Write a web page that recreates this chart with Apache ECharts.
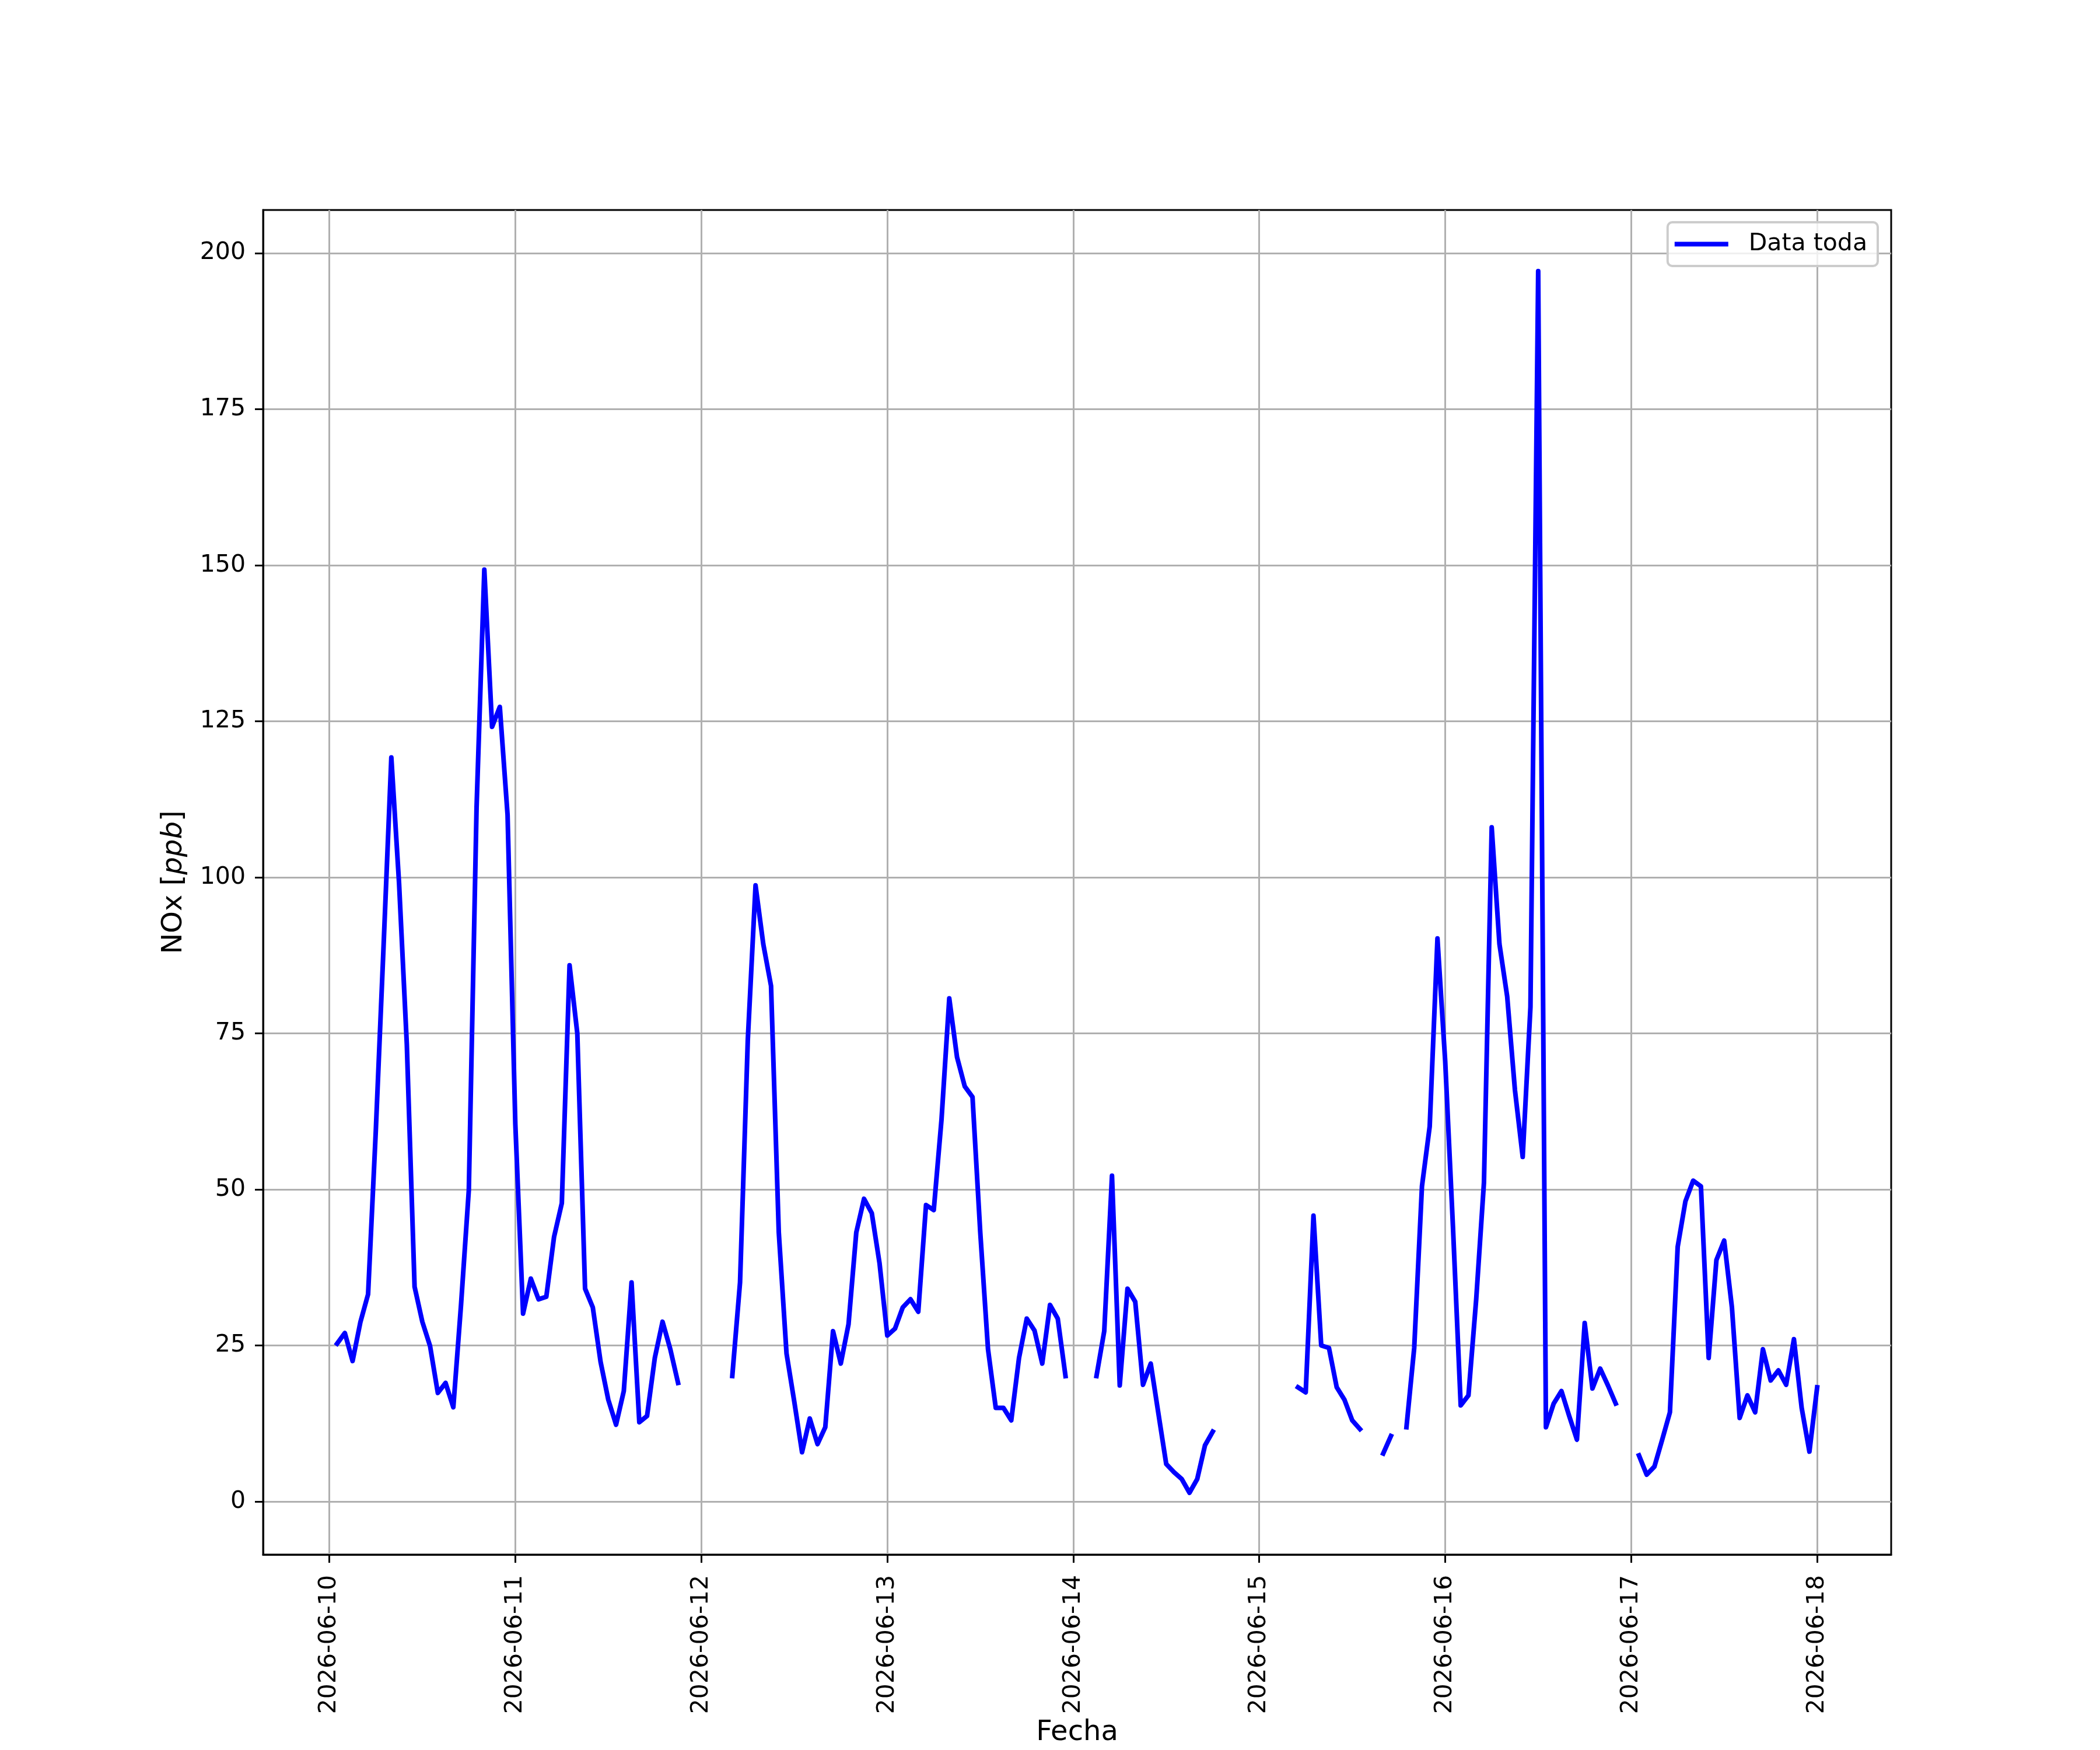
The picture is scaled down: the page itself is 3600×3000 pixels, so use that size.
<!DOCTYPE html>
<html>
<head>
<meta charset="utf-8">
<script src="https://cdn.jsdelivr.net/npm/echarts@6/dist/echarts.min.js"></script>
<style>
html,body{margin:0;padding:0;background:#ffffff;}
#chart{width:3600px;height:3000px;}
</style>
</head>
<body>
<div id="chart"></div>
<script>
// ---- data ----
const seriesName = 'Data toda';
const xAxisName = 'Fecha';
const yAxisName = 'NOx [{i|ppb}]';
const axisOrigin = '2026-06-10T00:00:00Z';   // x = 0 on the axis
const firstSample = '2026-06-10T01:00:00Z';  // first hourly sample
const xTickLabels = ['2026-06-10','2026-06-11','2026-06-12','2026-06-13','2026-06-14','2026-06-15','2026-06-16','2026-06-17','2026-06-18'];
const yTickValues = [0, 25, 50, 75, 100, 125, 150, 175, 200];
// hourly NOx [ppb], from 2026-06-10 01:00 to 2026-06-18 00:00 (null = no data)
const noxValues = [
  25.3, 27.0, 22.5, 28.7, 33.2, 59.5, 89.0, 119.2, 99.0, 73.2, 34.4, 28.8, 24.9, 17.4, 19.0, 15.1, 31.6, 49.9, 111.2, 149.3, 124.1, 127.3, 110.0, 60.5,
  30.1, 35.7, 32.4, 32.8, 42.4, 47.8, 85.9, 75.0, 34.1, 31.1, 22.4, 16.3, 12.3, 17.7, 35.1, 12.7, 13.7, 23.0, 28.8, 24.4, 19.0, null, null, null,
  null, null, null, 20.1, 35.1, 73.9, 98.7, 89.3, 82.6, 43.1, 23.7, 16.0, 7.9, 13.3, 9.2, 11.9, 27.3, 22.1, 28.4, 43.1, 48.5, 46.2, 38.2, 26.6,
  27.7, 31.1, 32.4, 30.4, 47.5, 46.7, 61.2, 80.6, 71.2, 66.5, 64.8, 43.1, 24.4, 15.0, 15.0, 13.0, 23.0, 29.3, 27.4, 22.1, 31.5, 29.3, 20.1, null,
  null, null, 20.1, 27.3, 52.2, 18.6, 34.1, 32.0, 18.7, 22.1, 14.0, 6.0, 4.7, 3.6, 1.4, 3.6, 9.0, 11.2, null, null, null, null, null, null,
  null, null, null, null, 18.3, 17.5, 45.8, 25.0, 24.6, 18.3, 16.3, 13.0, 11.6, null, null, 7.7, 10.5, null, 11.9, 24.6, 50.5, 60.1, 90.2, 70.5,
  44.0, 15.4, 17.0, 32.4, 51.1, 108.0, 89.3, 80.9, 65.9, 55.2, 79.2, 197.1, 11.9, 15.7, 17.7, 13.7, 9.9, 28.6, 18.1, 21.3, 18.6, 15.7, null, null,
  7.4, 4.3, 5.6, 9.9, 14.3, 40.8, 48.1, 51.4, 50.5, 23.0, 38.7, 41.8, 31.1, 13.4, 17.0, 14.3, 24.4, 19.4, 21.0, 18.7, 26.0, 15.0, 8.0, 18.3
];
// axis limits (hours from axisOrigin / ppb)
const xLimits = [-8.55, 201.55];
const yLimits = [-8.5, 206.9];

// ---- build ----
const HOUR = 3600000;
const t0 = (Date.parse(firstSample) - Date.parse(axisOrigin)) / HOUR;
const seriesData = noxValues.map((v, i) => [t0 + i, v]);
const xTickHours = xTickLabels.map(d => (Date.parse(d + 'T00:00:00Z') - Date.parse(axisOrigin)) / HOUR);
const FONT = 'DejaVu Sans';

const chart = echarts.init(document.getElementById('chart'), null, {renderer: 'canvas', width: 3600, height: 3000});
chart.setOption({
  animation: false,
  backgroundColor: '#ffffff',
  grid: {
    left: 451, top: 360, right: 358, bottom: 330,
    show: true, borderColor: '#000000', borderWidth: 3, backgroundColor: 'transparent'
  },
  legend: {
    data: [{name: seriesName, icon: 'rect'}],
    right: 381, top: 381,
    itemWidth: 92, itemHeight: 8,
    padding: [17, 18, 17, 12],
    backgroundColor: 'rgba(255,255,255,0.8)',
    borderColor: '#cccccc', borderWidth: 4, borderRadius: 8,
    textStyle: {fontSize: 41, fontFamily: FONT, color: '#000000', padding: [0, 0, 0, 30]}
  },
  xAxis: {
    type: 'value',
    min: xLimits[0], max: xLimits[1],
    minInterval: 24, maxInterval: 24,
    name: xAxisName, nameLocation: 'middle', nameGap: 282,
    nameTextStyle: {fontSize: 48, fontFamily: FONT, color: '#000000'},
    axisLine: {show: true, onZero: false, lineStyle: {color: '#000000', width: 3}},
    axisTick: {show: true, length: 14, inside: false, customValues: xTickHours, lineStyle: {color: '#000000', width: 3}},
    axisLabel: {
      show: true, customValues: xTickHours, rotate: 90, margin: 35,
      fontSize: 41, fontFamily: FONT, color: '#000000',
      formatter: v => xTickLabels[xTickHours.indexOf(v)] || ''
    },
    splitLine: {show: true, lineStyle: {color: '#b0b0b0', width: 3}}
  },
  yAxis: {
    type: 'value',
    min: yLimits[0], max: yLimits[1],
    minInterval: 25, maxInterval: 25,
    name: yAxisName, nameLocation: 'middle', nameRotate: 90, nameGap: 128,
    nameTextStyle: {fontSize: 48, fontFamily: FONT, color: '#000000',
      rich: {i: {fontSize: 48, fontFamily: FONT, fontStyle: 'italic', color: '#000000'}}},
    axisLine: {show: true, onZero: false, lineStyle: {color: '#000000', width: 3}},
    axisTick: {show: true, length: 14, inside: false, customValues: yTickValues, lineStyle: {color: '#000000', width: 3}},
    axisLabel: {
      show: true, customValues: yTickValues, margin: 30,
      fontSize: 41, fontFamily: FONT, color: '#000000',
      formatter: v => (yTickValues.indexOf(v) >= 0 ? String(v) : '')
    },
    splitLine: {show: true, lineStyle: {color: '#b0b0b0', width: 3}}
  },
  series: [{
    type: 'line',
    name: seriesName,
    data: seriesData,
    showSymbol: false,
    symbol: 'none',
    connectNulls: false,
    clip: true,
    color: '#0000ff',
    lineStyle: {color: '#0000ff', width: 8, cap: 'square', join: 'round'},
    itemStyle: {color: '#0000ff'}
  }]
});
</script>
</body>
</html>
